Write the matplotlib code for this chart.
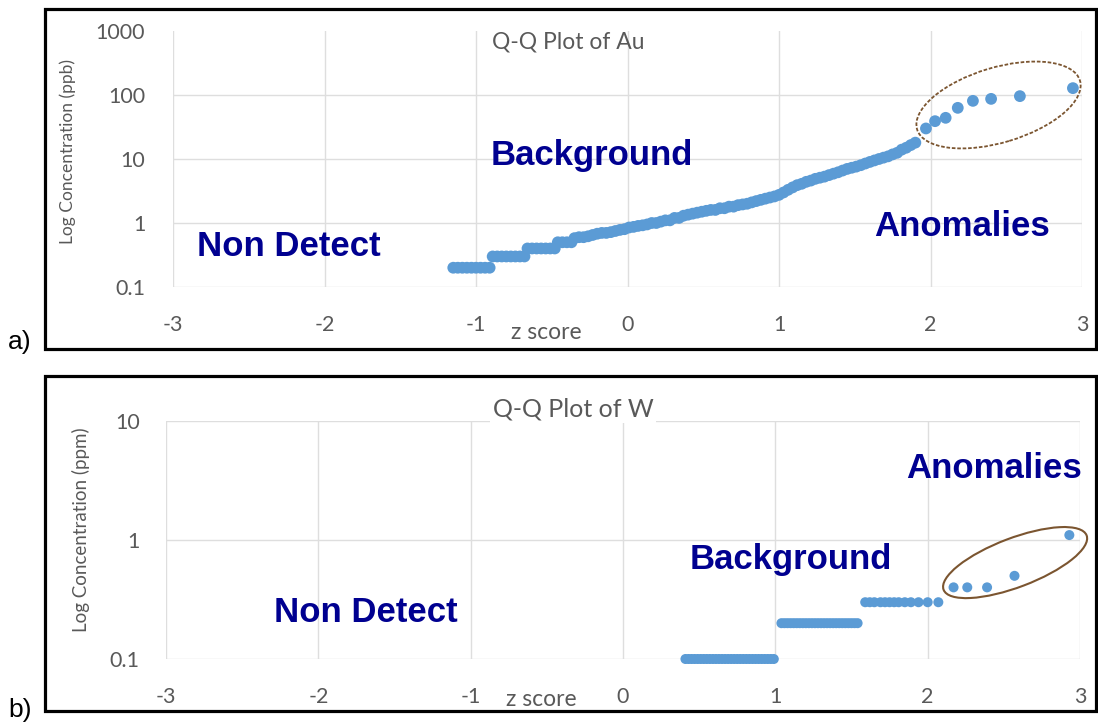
import matplotlib
matplotlib.use("Agg")
import matplotlib.pyplot as plt
from matplotlib.patches import Ellipse, Rectangle
from matplotlib.transforms import ScaledTranslation

# ---------------- data ----------------
au_z = [-1.15, -1.12, -1.09, -1.06, -1.03, -1.00, -0.97, -0.94, -0.91,
        -0.89, -0.86, -0.83, -0.80, -0.77, -0.74, -0.71, -0.68,
        -0.66, -0.63, -0.60, -0.57, -0.54, -0.51, -0.48,
        -0.46, -0.43, -0.40, -0.37,
        -0.35, -0.32, -0.29, -0.26, -0.23, -0.20, -0.17, -0.14, -0.11, -0.08,
        -0.05, -0.02, 0.01, 0.04, 0.07, 0.10, 0.13, 0.16, 0.19, 0.22,
        0.25, 0.28, 0.31, 0.34, 0.37, 0.40, 0.43, 0.46, 0.49, 0.52,
        0.55, 0.58, 0.61, 0.64, 0.67, 0.70, 0.73, 0.76, 0.79, 0.82,
        0.85, 0.88, 0.91, 0.94, 0.97, 1.00, 1.03, 1.06, 1.09, 1.12,
        1.15, 1.18, 1.21, 1.24, 1.27, 1.30, 1.33, 1.36, 1.39, 1.42,
        1.45, 1.48, 1.51, 1.54, 1.57, 1.60, 1.63, 1.66, 1.69, 1.72,
        1.75, 1.78, 1.81, 1.84, 1.87, 1.90,
        1.97, 2.03, 2.10, 2.18, 2.28, 2.40, 2.59, 2.94]
au_ppb = [0.2, 0.2, 0.2, 0.2, 0.2, 0.2, 0.2, 0.2, 0.2,
          0.3, 0.3, 0.3, 0.3, 0.3, 0.3, 0.3, 0.3,
          0.4, 0.4, 0.4, 0.4, 0.4, 0.4, 0.4,
          0.5, 0.5, 0.5, 0.5,
          0.58, 0.6, 0.6, 0.62, 0.65, 0.68, 0.7, 0.7, 0.72, 0.75,
          0.78, 0.8, 0.85, 0.87, 0.9, 0.92, 0.95, 1.0, 1.0, 1.05,
          1.1, 1.1, 1.2, 1.2, 1.3, 1.35, 1.4, 1.45, 1.5, 1.55,
          1.6, 1.6, 1.7, 1.7, 1.8, 1.8, 1.9, 1.95, 2.0, 2.1,
          2.2, 2.3, 2.4, 2.5, 2.6, 2.75, 3.0, 3.3, 3.6, 3.9,
          4.1, 4.4, 4.6, 4.9, 5.1, 5.3, 5.6, 5.9, 6.2, 6.6,
          7.0, 7.3, 7.6, 8.0, 8.5, 9.0, 9.5, 10, 10.5, 11,
          11.8, 12.5, 14, 15, 16.5, 18,
          30, 39, 44, 63, 81, 87, 96, 128]

w_z = [0.41, 0.43, 0.45, 0.47, 0.49, 0.51, 0.53, 0.55, 0.57, 0.59,
       0.61, 0.63, 0.65, 0.67, 0.69, 0.71, 0.73, 0.75, 0.77, 0.79,
       0.81, 0.83, 0.85, 0.87, 0.89, 0.91, 0.93, 0.95, 0.97, 0.99,
       1.04, 1.06, 1.08, 1.10, 1.12, 1.14, 1.16, 1.18, 1.20, 1.22,
       1.24, 1.26, 1.28, 1.30, 1.32, 1.34, 1.36, 1.38, 1.40, 1.42,
       1.44, 1.46, 1.48, 1.50, 1.52, 1.54,
       1.59, 1.62, 1.65, 1.69, 1.72, 1.75, 1.78, 1.81, 1.85, 1.89,
       1.94, 2.00, 2.07,
       2.17, 2.26, 2.39, 2.57, 2.93]
w_ppm = [0.1] * 30 + [0.2] * 26 + [0.3] * 13 + [0.4, 0.4, 0.4, 0.5, 1.1]

x_ticks = [-3, -2, -1, 0, 1, 2, 3]
au_yticks = [0.1, 1, 10, 100, 1000]
au_ylabels = ["0.1", "1", "10", "100", "1000"]
w_yticks = [0.1, 1, 10]
w_ylabels = ["0.1", "1", "10"]

# anomaly ellipse centres (z, concentration)
au_ell = (2.449, 69.8)
w_ell = (2.574, 0.646)

# ---------------- styling ----------------
W, H = 1098, 723
DOT = "#5B9BD5"
GREY = "#595959"
GRID = "#DEDEDE"
NAVY = "#000090"
BROWN = "#7B5530"
UI = ["Lato", "DejaVu Sans"]
BOLD = ["Liberation Sans", "DejaVu Sans"]

fig = plt.figure(figsize=(W / 100, H / 100), dpi=100)
fig.patch.set_facecolor("white")


def fx(px):
    return px / W


def fy(py):
    return 1 - py / H


# panel frames
for (x0, y0, x1, y1) in [(45, 9, 1096, 349), (45, 376, 1096, 711)]:
    fig.patches.append(Rectangle((fx(x0), fy(y1)), fx(x1) - fx(x0), fy(y0) - fy(y1),
                                 transform=fig.transFigure, fill=False,
                                 edgecolor="black", linewidth=2.3, zorder=0))


def style_axes(ax, yticks, ylabels, ylim, pad_x, pad_y):
    ax.set_yscale("log")
    ax.set_xlim(-3, 3)
    ax.set_ylim(*ylim)
    ax.set_xticks(x_ticks)
    ax.set_xticklabels([str(t) for t in x_ticks])
    ax.set_yticks(yticks)
    ax.set_yticklabels(ylabels)
    ax.minorticks_off()
    ax.tick_params(axis="both", length=0, colors=GREY, labelsize=15.5)
    ax.tick_params(axis="x", pad=pad_x)
    ax.tick_params(axis="y", pad=pad_y)
    for lab in ax.get_xticklabels() + ax.get_yticklabels():
        lab.set_family(UI)
    for s in ax.spines.values():
        s.set_visible(False)
    ax.set_axisbelow(True)
    ax.grid(True, color=GRID, linewidth=1.0)


# ---------------- panel a ----------------
ax1 = fig.add_axes([fx(173), fy(287), fx(1082) - fx(173), fy(31) - fy(287)])
style_axes(ax1, au_yticks, au_ylabels, (0.1, 1000), 20, 20)
ax1.yaxis.get_gridlines()[-1].set_visible(False)
ax1.scatter(au_z, au_ppb, s=72, color=DOT, edgecolors="none", zorder=3, clip_on=False)
t1 = fig.dpi_scale_trans + ScaledTranslation(au_ell[0], au_ell[1], ax1.transData)
ax1.add_patch(Ellipse((0, 0), 1.70, 0.75, angle=16.7, transform=t1, fill=False,
                      edgecolor=BROWN, linewidth=1.3, linestyle=(0, (2, 1)), clip_on=False))

fig.text(fx(568), fy(42), "Q-Q Plot of Au", ha="center", va="center",
         color=GREY, fontsize=16.5, family=UI)
fig.text(fx(68), fy(152), "Log Concentration (ppb)", ha="center", va="center",
         rotation=90, color=GREY, fontsize=12.5, family=UI)
fig.text(fx(546), fy(333), "z score", ha="center", va="center",
         color=GREY, fontsize=16.5, family=UI)
fig.text(fx(592), fy(156), "Background", ha="center", va="center",
         color=NAVY, fontsize=25, fontweight="bold", family=BOLD)
fig.text(fx(289), fy(246), "Non Detect", ha="center", va="center",
         color=NAVY, fontsize=25, fontweight="bold", family=BOLD)
fig.text(fx(962), fy(226), "Anomalies", ha="center", va="center",
         color=NAVY, fontsize=25, fontweight="bold", family=BOLD)
fig.text(fx(20), fy(342), "a)", ha="center", va="center",
         color="black", fontsize=19, family=BOLD)

# ---------------- panel b ----------------
ax2 = fig.add_axes([fx(166), fy(659), fx(1080) - fx(166), fy(421) - fy(659)])
style_axes(ax2, w_yticks, w_ylabels, (0.1, 10), 20, 19)
ax2.scatter(w_z, w_ppm, s=52, color=DOT, edgecolors="none", zorder=3, clip_on=False)
t2 = fig.dpi_scale_trans + ScaledTranslation(w_ell[0], w_ell[1], ax2.transData)
ax2.add_patch(Ellipse((0, 0), 1.53, 0.49, angle=20.8, transform=t2, fill=False,
                      edgecolor=BROWN, linewidth=1.5, clip_on=False))

fig.text(fx(573), fy(409), "Q-Q Plot of W", ha="center", va="center",
         color=GREY, fontsize=18, family=UI,
         bbox=dict(facecolor="white", edgecolor="none", pad=2))
fig.text(fx(81), fy(530), "Log Concentration (ppm)", ha="center", va="center",
         rotation=90, color=GREY, fontsize=13.5, family=UI)
fig.text(fx(541), fy(700), "z score", ha="center", va="center",
         color=GREY, fontsize=16.5, family=UI)
fig.text(fx(791), fy(560), "Background", ha="center", va="center",
         color=NAVY, fontsize=25, fontweight="bold", family=BOLD)
fig.text(fx(366), fy(613), "Non Detect", ha="center", va="center",
         color=NAVY, fontsize=25, fontweight="bold", family=BOLD)
fig.text(fx(994), fy(468), "Anomalies", ha="center", va="center",
         color=NAVY, fontsize=25, fontweight="bold", family=BOLD)
fig.text(fx(20), fy(710), "b)", ha="center", va="center",
         color="black", fontsize=19, family=BOLD)

fig.savefig("out.png", dpi=100, facecolor="white")
